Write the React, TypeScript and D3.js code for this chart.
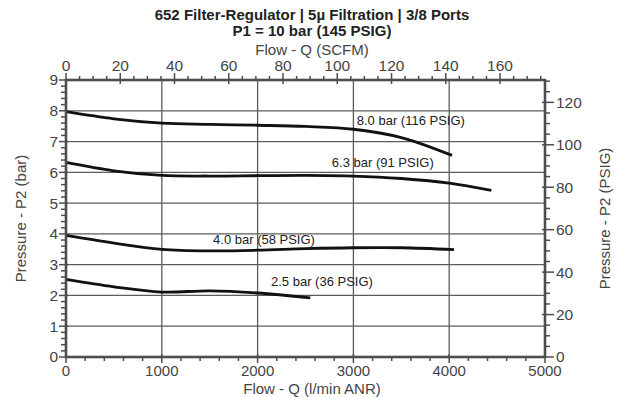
import React from "react";
import * as d3 from "d3";

const W = 624;
const H = 397;
const M = { left: 66, right: 79, top: 80, bottom: 40 };

const titleLines = ["652 Filter-Regulator | 5µ Filtration | 3/8 Ports", "P1 = 10 bar (145 PSIG)"];
const flowTicks = [0, 1000, 2000, 3000, 4000, 5000];
const barTicks = [0, 1, 2, 3, 4, 5, 6, 7, 8, 9];
const scfmTicks = [0, 20, 40, 60, 80, 100, 120, 140, 160];
const psigTicks = [0, 20, 40, 60, 80, 100, 120];

const curve80: [number, number][] = [[0, 7.97], [500, 7.74], [1000, 7.6], [1500, 7.56], [2000, 7.53], [2500, 7.49], [3000, 7.4], [3500, 7.13], [4030, 6.55]];
const curve63: [number, number][] = [[0, 6.32], [500, 6.05], [1000, 5.9], [1500, 5.88], [2000, 5.89], [2500, 5.9], [3000, 5.88], [3500, 5.8], [4000, 5.65], [4440, 5.41]];
const curve40: [number, number][] = [[0, 3.95], [500, 3.7], [1000, 3.5], [1500, 3.45], [2000, 3.47], [2500, 3.52], [3000, 3.55], [3500, 3.55], [4050, 3.49]];
const curve25: [number, number][] = [[0, 2.52], [500, 2.28], [1000, 2.11], [1500, 2.15], [2000, 2.08], [2550, 1.92]];
const curves = [curve80, curve63, curve40, curve25];

const labelTexts = ["8.0 bar (116 PSIG)", "6.3 bar (91 PSIG)", "4.0 bar (58 PSIG)", "2.5 bar (36 PSIG)"];
const labelFlow = [3035, 2775, 1535, 2140];
const labelBar = [7.67, 6.33, 3.81, 2.44];

const LPM_PER_SCFM = 28.3168;
const BAR_PER_PSI = 0.0689476;

const AXIS = "#4d4d4d";
const GRID = "#5c5c5c";
const FONT = "'Liberation Sans', Arial, Helvetica, sans-serif";

export default function App() {
  const x = d3.scaleLinear().domain([0, 5000]).range([M.left, W - M.right]);
  const y = d3.scaleLinear().domain([0, 9]).range([H - M.bottom, M.top]);
  const x0 = x.range()[0], x1 = x.range()[1];
  const y0 = y.range()[0], y1 = y.range()[1];

  const line = d3
    .line<[number, number]>()
    .x((d) => x(d[0]))
    .y((d) => y(d[1]))
    .curve(d3.curveCatmullRom.alpha(0.5));

  const minorFlow = d3.range(200, 5000, 200).filter((v) => v % 1000 !== 0);
  const minorBar = d3.range(0.2, 9, 0.2).filter((v) => Math.abs(v - Math.round(v)) > 0.01);
  const maxScfm = 5000 / LPM_PER_SCFM;
  const minorScfm = d3.range(5, maxScfm, 5).filter((v) => v % 20 !== 0);
  const maxPsi = 9 / BAR_PER_PSI;
  const minorPsi = d3.range(5, maxPsi, 5).filter((v) => v % 20 !== 0);

  const xs = (v: number) => x(v * LPM_PER_SCFM);
  const yp = (v: number) => y(v * BAR_PER_PSI);

  return (
    <svg width={W} height={H} style={{ position: "absolute", left: 0, top: 0, background: "#fff" }} fontFamily={FONT}>
      <rect x={0} y={0} width={W} height={H} fill="#fff" />
      {/* title */}
      <text x={W / 2} y={20} textAnchor="middle" fontWeight="bold" fontSize={15} fill="#222">{titleLines[0]}</text>
      <text x={W / 2} y={36} textAnchor="middle" fontWeight="bold" fontSize={15} fill="#222">{titleLines[1]}</text>
      <text x={W / 2} y={55} textAnchor="middle" fontSize={15} fill="#444">Flow - Q (SCFM)</text>

      {/* grid */}
      {flowTicks.filter((v) => v > 0 && v < 5000).map((v) => (
        <line key={"gx" + v} x1={x(v)} x2={x(v)} y1={y1} y2={y0} stroke={GRID} strokeWidth={1.3} />
      ))}
      {barTicks.filter((v) => v > 0 && v < 9).map((v) => (
        <line key={"gy" + v} x1={x0} x2={x1} y1={y(v)} y2={y(v)} stroke={GRID} strokeWidth={1.3} />
      ))}

      {/* curves */}
      {curves.map((c, i) => (
        <path key={"c" + i} d={line(c) || ""} fill="none" stroke="#111" strokeWidth={2.8} strokeLinecap="butt" />
      ))}
      {labelTexts.map((t, i) => (
        <text key={"l" + i} x={x(labelFlow[i])} y={y(labelBar[i])} dy="0.35em" fontSize={13} fill="#222">{t}</text>
      ))}

      {/* bottom axis */}
      {minorFlow.map((v) => (
        <line key={"mfx" + v} x1={x(v)} x2={x(v)} y1={y0} y2={y0 + 4} stroke={AXIS} strokeWidth={1.5} />
      ))}
      {flowTicks.map((v) => (
        <g key={"fx" + v}>
          <line x1={x(v)} x2={x(v)} y1={y0 - 3} y2={y0 + 6} stroke={AXIS} strokeWidth={1.5} />
          <text x={x(v)} y={y0 + 19} textAnchor="middle" fontSize={15} fill="#444">{v}</text>
        </g>
      ))}
      <text x={W / 2} y={394} textAnchor="middle" fontSize={15} fill="#444">Flow - Q (l/min ANR)</text>

      {/* top axis SCFM */}
      {minorScfm.map((v) => (
        <line key={"msx" + v} x1={xs(v)} x2={xs(v)} y1={y1} y2={y1 - 4} stroke={AXIS} strokeWidth={1.5} />
      ))}
      {scfmTicks.map((v) => (
        <g key={"sx" + v}>
          <line x1={xs(v)} x2={xs(v)} y1={y1 + 4} y2={y1 - 7} stroke={AXIS} strokeWidth={1.5} />
          <text x={xs(v)} y={y1 - 9} textAnchor="middle" fontSize={15.5} fill="#444">{v}</text>
        </g>
      ))}

      {/* left axis bar */}
      {minorBar.map((v) => (
        <line key={"mby" + v} x1={x0} x2={x0 - 5} y1={y(v)} y2={y(v)} stroke={AXIS} strokeWidth={1.5} />
      ))}
      {barTicks.map((v) => (
        <g key={"by" + v}>
          <line x1={x0 - 7} x2={x0 + 2} y1={y(v)} y2={y(v)} stroke={AXIS} strokeWidth={1.5} />
          <text x={x0 - 8} y={y(v)} dy="0.35em" textAnchor="end" fontSize={15.5} fill="#444">{v}</text>
        </g>
      ))}
      <text transform={`translate(21,${(y0 + y1) / 2}) rotate(-90)`} textAnchor="middle" dy="0.35em" fontSize={15} fill="#444">Pressure - P2 (bar)</text>

      {/* right axis psig */}
      {minorPsi.map((v) => (
        <line key={"mpy" + v} x1={x1} x2={x1 + 5} y1={yp(v)} y2={yp(v)} stroke={AXIS} strokeWidth={1.5} />
      ))}
      {psigTicks.map((v) => (
        <g key={"py" + v}>
          <line x1={x1 - 3} x2={x1 + 9} y1={yp(v)} y2={yp(v)} stroke={AXIS} strokeWidth={1.5} />
          <text x={x1 + 11} y={yp(v)} dy="0.35em" textAnchor="start" fontSize={15.5} fill="#444">{v}</text>
        </g>
      ))}
      <text transform={`translate(605,${(y0 + y1) / 2}) rotate(-90)`} textAnchor="middle" dy="0.35em" fontSize={15} fill="#444">Pressure - P2 (PSIG)</text>

      {/* frame */}
      <rect x={x0} y={y1} width={x1 - x0} height={y0 - y1} fill="none" stroke={AXIS} strokeWidth={2.6} />
    </svg>
  );
}
